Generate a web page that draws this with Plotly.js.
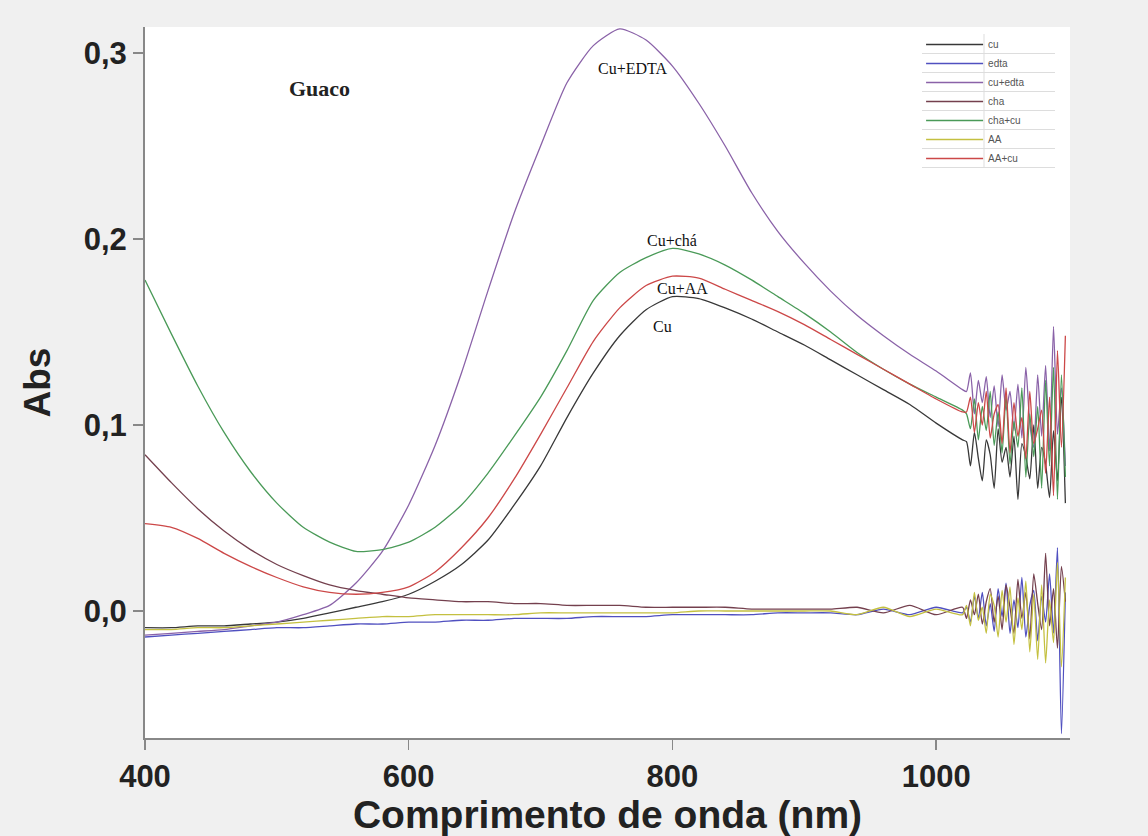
<!DOCTYPE html>
<html>
<head>
<meta charset="utf-8">
<script src="https://cdn.plot.ly/plotly-3.0.1.min.js"></script>
<style>html,body{margin:0;padding:0;background:#f0f0f0;}#chart{width:1148px;height:836px;}</style>
</head>
<body>
<div id="chart"></div>
<script>
// Wavelengths (nm): smooth part, then the noisy tail
const wlSmooth = [400,420,440,460,480,500,520,540,560,580,600,620,640,660,680,700,720,740,760,780,800,820,840,860,880,900,920,940,960,980,1000,1020];
const wlNoise  = [1023,1026,1029,1032,1035,1038,1041,1044,1047,1050,1053,1056,1059,1062,1065,1068,1071,1074,1077,1080,1083,1086,1089,1092,1095,1098];

// Absorbance values
const cuSmooth     = [-0.009,-0.009,-0.008,-0.008,-0.007,-0.006,-0.004,-0.001,0.002,0.005,0.009,0.016,0.025,0.038,0.057,0.078,0.104,0.128,0.148,0.162,0.169,0.168,0.163,0.157,0.150,0.143,0.135,0.127,0.119,0.111,0.101,0.092];
const cuNoise      = [0.091,0.078,0.096,0.082,0.070,0.092,0.084,0.066,0.098,0.080,0.088,0.072,0.094,0.060,0.090,0.083,0.071,0.100,0.066,0.088,0.079,0.061,0.097,0.070,0.115,0.058];

const edtaSmooth   = [-0.014,-0.013,-0.012,-0.011,-0.010,-0.009,-0.009,-0.008,-0.007,-0.007,-0.006,-0.006,-0.005,-0.005,-0.004,-0.004,-0.004,-0.003,-0.003,-0.003,-0.002,-0.002,-0.002,-0.002,-0.001,-0.001,-0.001,-0.002,0.001,-0.002,0.002,-0.001];
const edtaNoise    = [0.002,-0.006,0.008,-0.004,0.010,-0.008,0.004,-0.011,0.012,-0.003,0.015,-0.012,0.006,-0.009,0.018,-0.014,0.003,0.011,-0.016,0.008,-0.006,0.020,-0.012,0.034,-0.066,0.010];

const cuEdtaSmooth = [-0.013,-0.012,-0.011,-0.010,-0.008,-0.006,-0.002,0.003,0.015,0.032,0.057,0.089,0.128,0.172,0.214,0.250,0.284,0.304,0.313,0.307,0.293,0.273,0.250,0.225,0.204,0.187,0.172,0.159,0.148,0.138,0.129,0.119];
const cuEdtaNoise  = [0.118,0.128,0.106,0.124,0.112,0.126,0.104,0.121,0.099,0.127,0.108,0.118,0.097,0.122,0.093,0.131,0.101,0.088,0.127,0.094,0.132,0.086,0.153,0.095,0.120,0.078];

const chaSmooth    = [0.084,0.069,0.055,0.043,0.033,0.025,0.019,0.014,0.011,0.009,0.007,0.006,0.005,0.005,0.004,0.004,0.003,0.003,0.003,0.002,0.002,0.002,0.002,0.001,0.001,0.001,0.001,0.002,-0.001,0.003,-0.002,0.002];
const chaNoise     = [-0.004,0.006,-0.002,0.009,-0.007,0.005,0.012,-0.006,0.008,-0.010,0.014,0.002,-0.012,0.017,-0.004,0.010,-0.015,0.020,0.004,-0.010,0.031,-0.008,0.012,-0.020,0.024,0.005];

const chaCuSmooth  = [0.178,0.149,0.121,0.096,0.075,0.058,0.045,0.037,0.032,0.033,0.037,0.045,0.057,0.074,0.094,0.115,0.140,0.167,0.182,0.190,0.195,0.192,0.186,0.178,0.169,0.160,0.150,0.139,0.130,0.122,0.115,0.108];
const chaCuNoise   = [0.106,0.098,0.114,0.092,0.110,0.097,0.118,0.089,0.107,0.085,0.116,0.079,0.102,0.088,0.120,0.072,0.106,0.083,0.110,0.066,0.124,0.078,0.131,0.060,0.127,0.072];

const aaSmooth     = [-0.010,-0.010,-0.009,-0.009,-0.008,-0.007,-0.006,-0.005,-0.004,-0.003,-0.003,-0.002,-0.002,-0.002,-0.002,-0.001,-0.001,-0.001,-0.001,-0.001,-0.001,0.000,0.000,0.000,0.000,0.000,0.000,-0.002,0.002,-0.003,0.001,-0.002];
const aaNoise      = [0.003,-0.008,0.010,-0.005,0.002,-0.012,0.009,0.003,-0.014,0.011,-0.006,0.013,-0.018,0.007,-0.010,0.016,-0.022,0.009,-0.026,0.014,-0.028,0.006,-0.017,0.026,-0.030,0.018];

const aaCuSmooth   = [0.047,0.045,0.039,0.031,0.024,0.018,0.013,0.010,0.009,0.010,0.013,0.021,0.034,0.050,0.071,0.095,0.120,0.145,0.163,0.175,0.180,0.179,0.173,0.167,0.161,0.154,0.146,0.138,0.130,0.122,0.114,0.107];
const aaCuNoise    = [0.107,0.115,0.096,0.112,0.100,0.118,0.093,0.106,0.111,0.090,0.120,0.085,0.112,0.094,0.104,0.082,0.118,0.090,0.098,0.108,0.074,0.115,0.062,0.140,0.088,0.148];

const seriesNames = ['cu','edta','cu+edta','cha','cha+cu','AA','AA+cu'];
const seriesColors = ['#383838','#5050c0','#8a62a8','#74404e','#4a9a58','#c4c040','#cc4848'];

const labelTexts = ['Guaco','Cu+EDTA','Cu+chá','Cu+AA','Cu'];
const labelX = [532.7, 770.2, 799.8, 807.3, 792.2];
const labelY = [0.2811, 0.2919, 0.1993, 0.1735, 0.1531];

const wl = wlSmooth.concat(wlNoise);
const allY = [
  cuSmooth.concat(cuNoise),
  edtaSmooth.concat(edtaNoise),
  cuEdtaSmooth.concat(cuEdtaNoise),
  chaSmooth.concat(chaNoise),
  chaCuSmooth.concat(chaCuNoise),
  aaSmooth.concat(aaNoise),
  aaCuSmooth.concat(aaCuNoise)
];

const traces = seriesNames.map((n, i) => ({
  type: 'scatter', mode: 'lines', name: n,
  x: wl, y: allY[i],
  line: {color: seriesColors[i], width: 1.3, shape: 'spline', smoothing: 0.6}
}));

const annotations = labelTexts.map((t, i) => ({
  x: labelX[i], y: labelY[i], xref: 'x', yref: 'y', text: t, showarrow: false,
  xanchor: 'center', yanchor: 'middle',
  font: i === 0 ? {family: 'Liberation Serif', size: 22, color: '#222', weight: 'bold'}
                : {family: 'Liberation Serif', size: 16, color: '#111'}
}));

// legend table rules (decoration around the legend)
const plotL = 145, plotW = 925, plotB = 738, plotH = 711;
const px2x = p => (p - plotL) / plotW;
const px2y = p => (plotB - p) / plotH;
const shapes = [];
for (let k = 0; k < 7; k++) {
  const yy = px2y(53.5 + 19 * k);
  shapes.push({type: 'line', xref: 'paper', yref: 'paper', x0: px2x(922), x1: px2x(1055), y0: yy, y1: yy,
               line: {color: '#dddddd', width: 1}});
}
shapes.push({type: 'line', xref: 'paper', yref: 'paper', x0: px2x(984), x1: px2x(984), y0: px2y(34), y1: px2y(167.5),
             line: {color: '#dddddd', width: 1}});

const layout = {
  width: 1148, height: 836,
  paper_bgcolor: '#f0f0f0', plot_bgcolor: '#ffffff',
  margin: {l: 145, r: 78, t: 27, b: 98},
  separators: ',.',
  showlegend: true,
  legend: {
    x: 0.839, y: 0.9958, xanchor: 'left', yanchor: 'top',
    bgcolor: 'rgba(0,0,0,0)', borderwidth: 0,
    font: {family: 'Liberation Sans', size: 10, color: '#555'},
    tracegroupgap: 0, itemwidth: 57
  },
  xaxis: {
    range: [400, 1101.5], tickvals: [400, 600, 800, 1000],
    ticks: 'outside', ticklen: 10, tickwidth: 1.5, tickcolor: '#888',
    showline: true, linecolor: '#888', linewidth: 2,
    showgrid: false, zeroline: false,
    tickfont: {family: 'Liberation Sans', size: 31, color: '#222', weight: 'bold'},
    title: {text: 'Comprimento de onda (nm)', standoff: 0,
            font: {family: 'Liberation Sans', size: 39, color: '#222', weight: 'bold'}}
  },
  yaxis: {
    range: [-0.0683, 0.314], tickvals: [0, 0.1, 0.2, 0.3], tickformat: '.1f',
    ticks: 'outside', ticklen: 10, tickwidth: 1.5, tickcolor: '#888',
    showline: true, linecolor: '#888', linewidth: 2,
    showgrid: false, zeroline: false,
    tickfont: {family: 'Liberation Sans', size: 31, color: '#222', weight: 'bold'},
    title: {text: 'Abs', standoff: 22,
            font: {family: 'Liberation Sans', size: 37, color: '#222', weight: 'bold'}}
  },
  annotations: annotations,
  shapes: shapes
};

Plotly.newPlot('chart', traces, layout, {staticPlot: true, displayModeBar: false});
</script>
</body>
</html>
